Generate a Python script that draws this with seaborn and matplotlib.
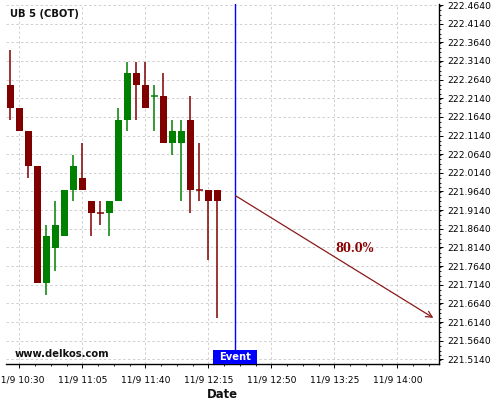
import matplotlib
matplotlib.use("Agg")
import matplotlib.pyplot as plt
import matplotlib.dates as mdates
from matplotlib.ticker import FixedLocator, FuncFormatter, MultipleLocator
from matplotlib.patches import Rectangle
import matplotlib.transforms as mtransforms
import seaborn as sns
import pandas as pd
import numpy as np

# ---- data ----
times = ["10:25", "10:30", "10:35", "10:40", "10:45", "10:50", "10:55", "11:00",
         "11:05", "11:10", "11:15", "11:20", "11:25", "11:30", "11:35", "11:40",
         "11:45", "11:50", "11:55", "12:00", "12:05", "12:10", "12:15", "12:20"]
opens = [222.25, 222.1875, 222.125, 222.03125, 221.71875, 221.8125, 221.84375, 221.96875,
         222.0, 221.9375, 221.90625, 221.90625, 221.9375, 222.15625, 222.28125, 222.25,
         222.21875, 222.21875, 222.09375, 222.09375, 222.15625, 221.96875, 221.96875, 221.96875]
highs = [222.34375, 222.1875, 222.125, 222.03125, 221.875, 221.9375, 221.96875, 222.0625,
         222.09375, 221.9375, 221.9375, 221.9375, 222.1875, 222.3125, 222.3125, 222.3125,
         222.25, 222.28125, 222.15625, 222.15625, 222.21875, 222.09375, 221.96875, 221.96875]
lows = [222.15625, 222.125, 222.0, 221.71875, 221.6875, 221.75, 221.84375, 221.9375,
        221.96875, 221.84375, 221.875, 221.84375, 221.9375, 222.125, 222.15625, 222.1875,
        222.125, 222.09375, 222.0625, 221.9375, 221.90625, 221.9375, 221.78125, 221.625]
closes = [222.1875, 222.125, 222.03125, 221.71875, 221.84375, 221.875, 221.96875, 222.03125,
          221.96875, 221.90625, 221.90625, 221.9375, 222.15625, 222.28125, 222.25, 222.1875,
          222.21875, 222.09375, 222.125, 222.125, 221.96875, 221.96875, 221.9375, 221.9375]
day = "2023-11-09"
title = "UB 5 (CBOT)"
event_time = "12:30"
forecast_start = ("12:30", 221.953)
forecast_end = ("14:20", 221.625)
forecast_label = "80.0%"
yticks = [221.514 + 0.05 * i for i in range(20)]
xtick_times = ["10:30", "11:05", "11:40", "12:15", "12:50", "13:25", "14:00"]

# ---- style ----
sns.set_theme(style="white")
plt.rcParams['font.family'] = ['DejaVu Sans']

UP = "#008000"
DOWN = "#800000"

def t(s):
    return mdates.date2num(pd.Timestamp(f"{day} {s}"))

x = np.array([t(s) for s in times])
minute = 1.0 / 1440.0

fig = plt.figure(figsize=(5, 4), dpi=100)
ax = fig.add_axes([0.0114, 0.09, 0.8672, 0.90])

ax.set_axisbelow(True)
ax.grid(True, which="major", color="#cfcfcf", linestyle=(0, (2.5, 2.5)), linewidth=0.7)

body_w = 3.7 * minute
prev_close = None
for i in range(len(x)):
    o, h, l, c = opens[i], highs[i], lows[i], closes[i]
    if c > o:
        col = UP
    elif c < o:
        col = DOWN
    else:
        col = UP if (prev_close is not None and c > prev_close) else DOWN
    prev_close = c
    ax.vlines(x[i], l, h, color=col, linewidth=1.1, zorder=3)
    if c != o:
        ax.bar(x[i], abs(c - o), bottom=min(o, c), width=body_w, color=col,
               edgecolor=col, linewidth=0, zorder=4)
    else:
        ax.hlines(o, x[i] - body_w / 2, x[i] + body_w / 2, color=col, linewidth=1.1, zorder=4)

ax.set_xlim(t("10:22") + 0.44 * minute, t("14:23") + 0.3 * minute)
ax.set_ylim(221.5014, 222.4667)

# event line and label
ev = t(event_time)
ax.axvline(ev, color="#0000ff", linewidth=1.0, zorder=5)
trans = mtransforms.blended_transform_factory(ax.transData, ax.transAxes)
ax.add_patch(Rectangle((ev - 12.3 * minute, 0), 24.6 * minute, 0.039, transform=trans,
                       facecolor="#0000ff", edgecolor="none", zorder=6, clip_on=False))
ax.text(ev, 0.0195, "Event", transform=trans, color="white", fontsize=7.2,
        fontweight="bold", ha="center", va="center", zorder=7)

# forecast arrow
ax.annotate("", xy=(t(forecast_end[0]), forecast_end[1]),
            xytext=(t(forecast_start[0]), forecast_start[1]),
            arrowprops=dict(arrowstyle="->", color="#8b1a1a", lw=0.9,
                            mutation_scale=11, shrinkA=0, shrinkB=0), zorder=6)
ax.text(t("13:36") + 0.5 * minute, 221.8115, forecast_label, color="#8b0000",
        fontsize=8.3, fontweight="bold", family="DejaVu Serif", ha="center", va="center")

# texts
ax.text(0.011, 0.971, title, transform=ax.transAxes, fontsize=7.2, fontweight="bold",
        ha="left", va="center", color="#111111")
ax.text(0.021, 0.028, "www.delkos.com", transform=ax.transAxes, fontsize=7.2,
        fontweight="bold", ha="left", va="center", color="#111111")

# axes styling
for side in ["top", "left"]:
    ax.spines[side].set_visible(False)
for side in ["bottom", "right"]:
    ax.spines[side].set_visible(True)
    ax.spines[side].set_color("black")
    ax.spines[side].set_linewidth(1.0)

ax.yaxis.set_major_locator(FixedLocator(yticks))
ax.yaxis.set_minor_locator(MultipleLocator(0.0125))
ax.yaxis.set_major_formatter(FuncFormatter(lambda v, p: f"{v:.4f}"))
ax.yaxis.tick_right()
ax.tick_params(axis="y", which="major", direction="out", length=3, width=0.7,
               labelsize=6.6, pad=2.5, colors="black", left=False, right=True,
               labelleft=False, labelright=True)
ax.tick_params(axis="y", which="minor", direction="out", length=1.5, width=0.6,
               left=False, right=True, colors="black")

major_x = [t(s) for s in xtick_times]
minor_x = [t("10:30") + k * 8.75 * minute for k in range(-1, 28)]
ax.xaxis.set_major_locator(FixedLocator(major_x))
ax.xaxis.set_minor_locator(FixedLocator(minor_x))
ax.xaxis.set_major_formatter(FuncFormatter(lambda v, p: "11/9 " + mdates.num2date(v).strftime("%H:%M")))
ax.tick_params(axis="x", which="major", direction="out", length=3, width=0.7,
               labelsize=6.6, pad=5, colors="black", bottom=True)
ax.tick_params(axis="x", which="minor", direction="out", length=1.5, width=0.6,
               bottom=True, colors="black")

ax.set_xlabel("Date", fontsize=8.4, fontweight="bold", labelpad=3, color="#111111")
ax.set_ylabel("")

fig.savefig("out.png", dpi=100)
